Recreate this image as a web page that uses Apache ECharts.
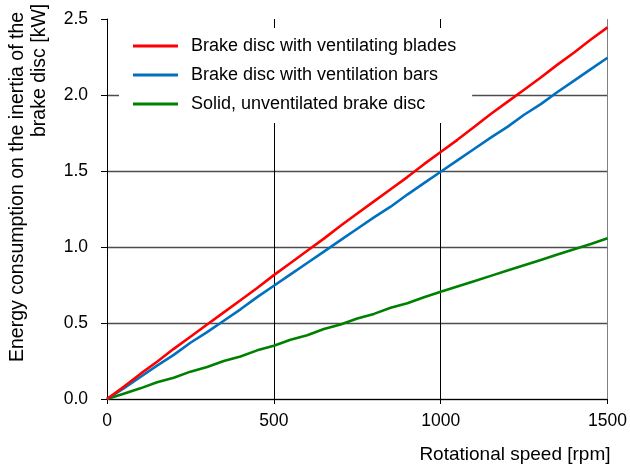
<!DOCTYPE html>
<html>
<head>
<meta charset="utf-8">
<script src="https://cdn.jsdelivr.net/npm/echarts@6/dist/echarts.min.js"></script>
<style>
  html, body { margin: 0; padding: 0; background: #fff; }
  #chart { width: 630px; height: 465px; }
</style>
</head>
<body>
<div id="chart"></div>
<script>
// Rotational speed in rpm (every 50 rpm)
const speeds = [0, 50, 100, 150, 200, 250, 300, 350, 400, 450, 500, 550, 600, 650, 700, 750,
  800, 850, 900, 950, 1000, 1050, 1100, 1150, 1200, 1250, 1300, 1350, 1400, 1450, 1500];

// Energy consumption on the inertia of the brake disc [kW]
const bladesKW = [0, 0.08, 0.165, 0.245, 0.33, 0.41, 0.49, 0.57, 0.65, 0.73, 0.815, 0.895,
  0.975, 1.055, 1.14, 1.22, 1.30, 1.38, 1.46, 1.545, 1.625, 1.705, 1.79, 1.875, 1.955, 2.035,
  2.115, 2.2, 2.28, 2.365, 2.445];
const barsKW = [0, 0.07, 0.145, 0.22, 0.29, 0.37, 0.44, 0.515, 0.59, 0.67, 0.745, 0.82,
  0.895, 0.97, 1.045, 1.12, 1.195, 1.265, 1.345, 1.42, 1.495, 1.57, 1.645, 1.72, 1.79, 1.87,
  1.94, 2.02, 2.095, 2.17, 2.245];
const solidKW = [0, 0.035, 0.07, 0.11, 0.14, 0.18, 0.21, 0.25, 0.28, 0.32, 0.35, 0.39,
  0.42, 0.46, 0.49, 0.53, 0.56, 0.60, 0.63, 0.67, 0.705, 0.74, 0.775, 0.81, 0.845, 0.88,
  0.915, 0.95, 0.985, 1.02, 1.057];

const seriesNames = [
  'Brake disc with ventilating blades',
  'Brake disc with ventilation bars',
  'Solid, unventilated brake disc'
];
const seriesColors = ['#ff0000', '#0070c0', '#008000'];
const seriesData = [bladesKW, barsKW, solidKW];

const xTicks = [0, 500, 1000, 1500];
const yTicks = [0.0, 0.5, 1.0, 1.5, 2.0, 2.5];

const yTitleLines = ['Energy consumption on the inertia of the', 'brake disc [kW]'];
const xTitle = 'Rotational speed [rpm]';

const FONT = '"Liberation Sans", Arial, sans-serif';

const chart = echarts.init(document.getElementById('chart'), null, { renderer: 'canvas' });

chart.setOption({
  backgroundColor: '#ffffff',
  animation: false,
  textStyle: { fontFamily: FONT, color: '#000' },
  grid: { left: 107, right: 22, top: 19, bottom: 66, containLabel: false },
  legend: {
    orient: 'vertical',
    left: 119,
    top: 28,
    padding: [9, 16, 10, 14],
    itemGap: 11,
    itemWidth: 45,
    itemHeight: 3,
    icon: 'rect',
    backgroundColor: '#ffffff',
    textStyle: {
      fontFamily: FONT, fontSize: 18, lineHeight: 18, color: '#000',
      padding: [0, 0, 0, 8]
    },
    data: seriesNames
  },
  xAxis: {
    type: 'value',
    min: xTicks[0],
    max: xTicks[xTicks.length - 1],
    interval: 500,
    name: xTitle,
    nameLocation: 'end',
    nameGap: 3,
    nameTextStyle: {
      fontFamily: FONT, fontSize: 19, color: '#000',
      align: 'right', verticalAlign: 'top', padding: [46, 0, 0, 0]
    },
    axisLine: { show: true, lineStyle: { color: '#000', width: 1 } },
    axisTick: { show: true, inside: false, length: 5, lineStyle: { color: '#000' } },
    axisLabel: {
      fontFamily: FONT, fontSize: 17.5, color: '#000', margin: 13,
      formatter: v => String(v)
    },
    splitLine: {
      show: true,
      lineStyle: { color: ['#000000', '#000000', '#000000', '#808080'], width: 1 }
    }
  },
  yAxis: {
    type: 'value',
    min: yTicks[0],
    max: yTicks[yTicks.length - 1],
    interval: 0.5,
    axisLine: { show: true, lineStyle: { color: '#000', width: 1 } },
    axisTick: { show: true, inside: false, length: 6, lineStyle: { color: '#000' } },
    axisLabel: {
      fontFamily: FONT, fontSize: 17.5, color: '#000', margin: 19,
      formatter: v => v.toFixed(1)
    },
    splitLine: { show: true, showMaxLine: false, lineStyle: { color: '#4d4d4d', width: 1.3 } }
  },
  graphic: [
    {
      type: 'text',
      x: 17.5, y: 362,
      rotation: Math.PI / 2,
      style: {
        text: yTitleLines[0],
        fontFamily: FONT, fontSize: 19.5, fill: '#000',
        align: 'left', verticalAlign: 'middle'
      }
    },
    {
      type: 'text',
      x: 39.5, y: 137,
      rotation: Math.PI / 2,
      style: {
        text: yTitleLines[1],
        fontFamily: FONT, fontSize: 19.5, fill: '#000',
        align: 'left', verticalAlign: 'middle'
      }
    }
  ],
  series: seriesNames.map((name, i) => ({
    name: name,
    type: 'line',
    data: speeds.map((s, k) => [s, seriesData[i][k]]),
    showSymbol: false,
    symbol: 'none',
    smooth: false,
    color: seriesColors[i],
    lineStyle: { color: seriesColors[i], width: 2.6 },
    z: 5 - i
  }))
});
</script>
</body>
</html>
